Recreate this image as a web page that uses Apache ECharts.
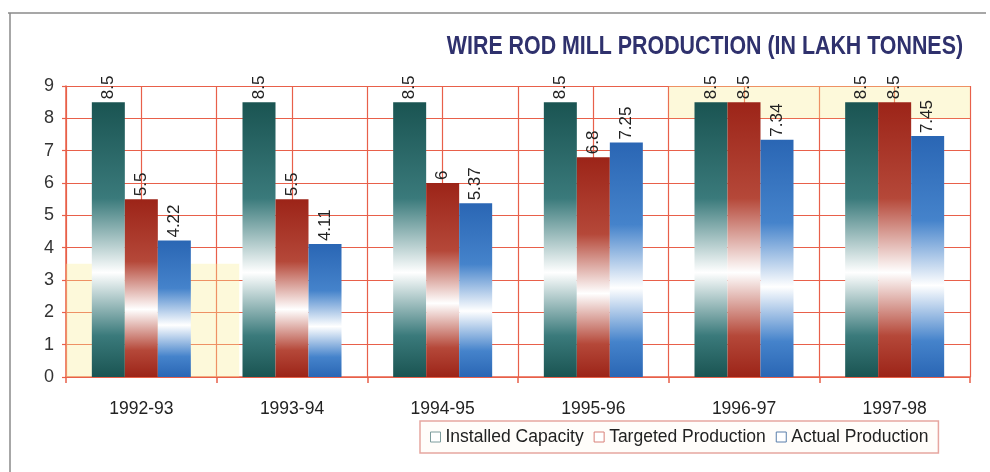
<!DOCTYPE html>
<html>
<head>
<meta charset="utf-8">
<script src="https://cdn.jsdelivr.net/npm/echarts@6/dist/echarts.min.js"></script>
<style>
    html, body {margin: 0; padding: 0; background: #fff;}
    #chart {width: 990px; height: 472px;}
</style>
</head>
<body>
<div id="chart"></div>
<script>
const years = ['1992-93', '1993-94', '1994-95', '1995-96', '1996-97', '1997-98'];
const installedCapacity = [8.5, 8.5, 8.5, 8.5, 8.5, 8.5];
const targetedProduction = [5.5, 5.5, 6, 6.8, 8.5, 8.5];
const actualProduction = [4.22, 4.11, 5.37, 7.25, 7.34, 7.45];
const yTicks = [0, 9];
const titleText = 'WIRE ROD MILL PRODUCTION (IN LAKH TONNES)';

const font = '"Liberation Sans", Arial, Helvetica, sans-serif';
const gridColor = '#e8604a';

function barFill(dark, mid) {
    return {
        type: 'linear', x: 0, y: 0, x2: 0, y2: 1,
        colorStops: [
            {offset: 0, color: dark},
            {offset: 0.35, color: mid},
            {offset: 0.62, color: '#ffffff'},
            {offset: 0.85, color: mid},
            {offset: 1, color: dark},
        ],
    };
}

function barSeries(name, data, dark, mid) {
    return {
        name,
        type: 'bar',
        data,
        barWidth: 33,
        barGap: '0%',
        itemStyle: {color: barFill(dark, mid)},
        label: {
            show: true,
            position: 'top',
            rotate: 90,
            align: 'left',
            verticalAlign: 'middle',
            distance: 3,
            color: '#222',
            fontFamily: font,
            fontSize: 17,
        },
        z: 3,
    };
}

const chart = echarts.init(document.getElementById('chart'), null, {renderer: 'canvas'});

chart.setOption({
    animation: false,
    backgroundColor: '#fff',
    legend: {
        left: 420,
        top: 421,
        padding: [7, 10],
        itemGap: 10,
        itemWidth: 10,
        itemHeight: 10,
        icon: 'rect',
        borderColor: '#e6a6a0',
        borderWidth: 1.5,
        backgroundColor: '#fffdfa',
        textStyle: {fontFamily: font, fontSize: 17.5, color: '#222'},
        data: [
            {name: 'Installed Capacity', itemStyle: {color: '#fff', borderColor: '#7d9c9c', borderWidth: 1}},
            {name: 'Targeted Production', itemStyle: {color: '#fff', borderColor: '#d98078', borderWidth: 1}},
            {name: 'Actual Production', itemStyle: {color: '#fff', borderColor: '#5a7fab', borderWidth: 1}},
        ],
    },
    grid: {left: 66, right: 20, top: 86, bottom: 95, containLabel: false},
    xAxis: [{
        type: 'category',
        data: years,
        axisLine: {lineStyle: {color: gridColor, width: 1.5}},
        axisTick: {show: true, length: 6, lineStyle: {color: gridColor, width: 1.5}},
        axisLabel: {fontFamily: font, fontSize: 17.5, color: '#222', margin: 23},
        splitLine: {show: false},
    }, {
        type: 'value',
        min: 0,
        max: 12,
        interval: 1,
        position: 'bottom',
        axisLine: {show: false},
        axisTick: {show: false},
        axisLabel: {show: false},
        splitLine: {show: true, lineStyle: {color: gridColor, width: 1.2}},
    }],
    yAxis: {
        type: 'value',
        min: yTicks[0],
        max: yTicks[1],
        interval: 1,
        axisLine: {show: true, lineStyle: {color: gridColor, width: 1.5}},
        axisTick: {show: true, length: 4, lineStyle: {color: gridColor, width: 1.2}},
        axisLabel: {fontFamily: font, fontSize: 18, color: '#333', margin: 12},
        splitLine: {show: true, lineStyle: {color: gridColor, width: 1.2}},
    },
    series: [
        {
            type: 'line',
            xAxisIndex: 1,
            data: [],
            silent: true,
            z: 0,
            markArea: {
                silent: true,
                itemStyle: {color: 'rgba(250, 238, 150, 0.35)'},
                data: [
                    [{coord: [0, 0]}, {coord: [2.3, 3.5]}],
                    [{coord: [8, 8]}, {coord: [12, 9]}],
                ],
            },
        },
        barSeries('Installed Capacity', installedCapacity, '#1a5452', '#3a7a7b'),
        barSeries('Targeted Production', targetedProduction, '#9c2418', '#b54839'),
        barSeries('Actual Production', actualProduction, '#2a66b4', '#4583cb'),
    ],
    graphic: [
        {type: 'line', shape: {x1: 8, y1: 13, x2: 986, y2: 13}, style: {stroke: '#8a8a8a', lineWidth: 1.5}},
        {type: 'line', shape: {x1: 10, y1: 13, x2: 10, y2: 472}, style: {stroke: '#8a8a8a', lineWidth: 1.5}},
        {
            type: 'text',
            x: 963,
            y: 47,
            scaleX: 0.855,
            style: {
                text: titleText,
                x: 0,
                y: 0,
                align: 'right',
                verticalAlign: 'middle',
                fontFamily: font,
                fontWeight: 'bold',
                fontSize: 25,
                fill: '#2f316d',
            },
        },
    ],
});
</script>
</body>
</html>
